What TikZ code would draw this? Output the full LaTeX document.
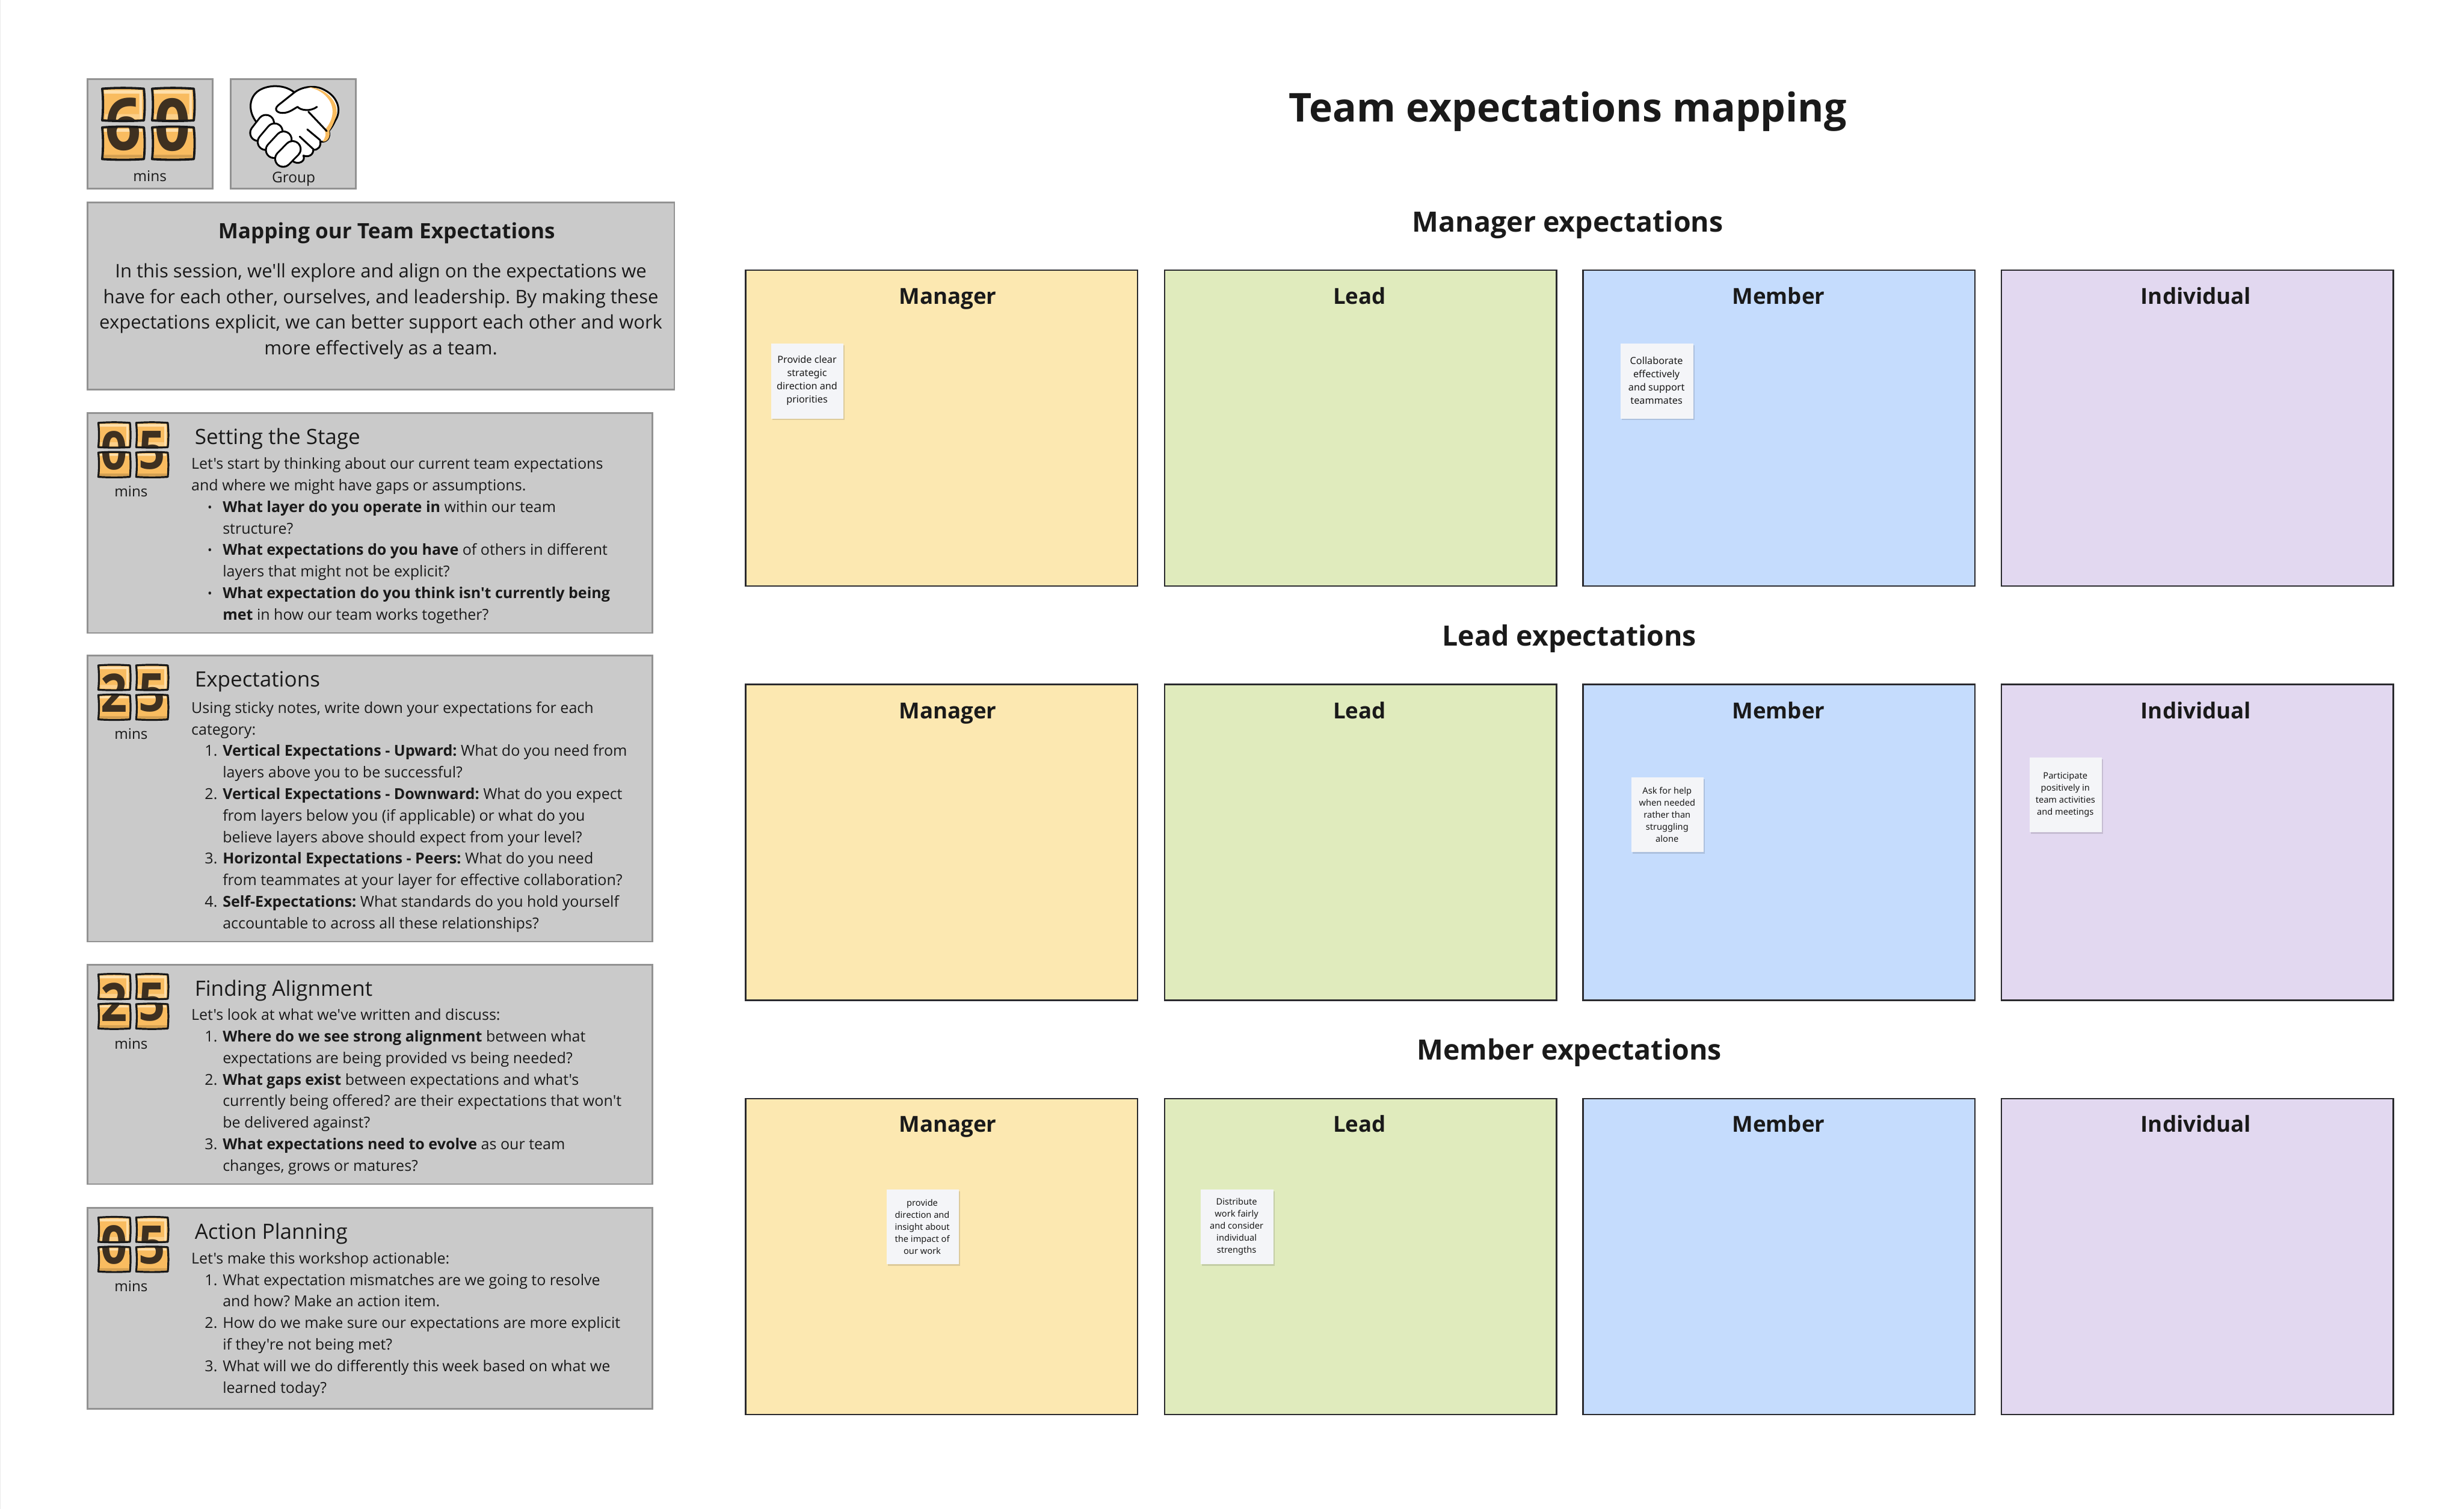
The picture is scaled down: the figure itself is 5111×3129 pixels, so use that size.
\documentclass[tikz,border=0pt]{standalone}
\usepackage{fontspec}
\usetikzlibrary{shadows}
\newfontfamily\os{Open Sans}
\newfontfamily\ns{Noto Sans}
\definecolor{inkc}{HTML}{1A1A1A}
\definecolor{panelc}{HTML}{CACACA}
\definecolor{panelb}{HTML}{929292}
\definecolor{frameb}{HTML}{2A2A2E}
\definecolor{yelc}{HTML}{FCE8B1}
\definecolor{grnc}{HTML}{E0EBBD}
\definecolor{bluc}{HTML}{C5DCFD}
\definecolor{purc}{HTML}{E2D8F0}
\definecolor{stickc}{HTML}{F4F5F8}
\definecolor{orgc}{HTML}{F9BC60}
\definecolor{orgl}{HTML}{FFDFAB}
\definecolor{digc}{HTML}{3E3020}
\frenchspacing
\newcommand{\fnt}[2]{\fontsize{#1pt}{#2pt}\selectfont}
\newlength{\lind}\setlength{\lind}{13pt}
\newcommand{\LI}[2]{\makebox[\lind][r]{#1\hspace{2.2pt}}#2}
\newcommand{\LC}[1]{\hspace*{\lind}#1}
\newcommand{\BU}{{\fontsize{5pt}{5pt}\selectfont\raisebox{.3pt}{•}}\hspace{2.2pt}}
% tile outline in a 100 x 100 box
\newcommand{\tilep}[4]{(#1,#2) .. controls ({#1+(#3)*.35},{#2-1.5}) and ({#1+(#3)*.65},{#2-1.5}) .. ({#1+#3},#2) .. controls ({#1+#3+1.2},{#2+(#4)*.35}) and ({#1+#3+1.2},{#2+(#4)*.65}) .. ({#1+#3},{#2+#4}) .. controls ({#1+(#3)*.65},{#2+#4+1.2}) and ({#1+(#3)*.35},{#2+#4+1.2}) .. (#1,{#2+#4}) .. controls ({#1+1.2},{#2+(#4)*.65}) and ({#1+1.2},{#2+(#4)*.35}) .. (#1,#2) -- cycle}
\newcommand{\tiles}{\tilep{0}{0}{45.5}{45}\tilep{54.5}{0}{45.5}{45}\tilep{0}{55}{45.5}{45}\tilep{54.5}{55}{45.5}{45}}
% #1 x, #2 y, #3 w, #4 h, #5 #6 digits, #7 font size, #8 name, #9 line width
\newcommand{\flip}[9]{%
\begin{scope}[shift={(#1,#2)},xscale=#3/100,yscale=#4/100]
 \fill[orgc] \tiles;
 \fill[orgl] (2,2) rectangle (43.5,7) (56.5,2) rectangle (98,7) (2,57) rectangle (43.5,61) (56.5,57) rectangle (98,61);
 \fill[orgl] (40.5,2) rectangle (43.5,43) (95,2) rectangle (98,43);
 \fill[orgl!55!orgc] (3,36) rectangle (41,43) (57,36) rectangle (95,43);
 \fill[orgc!85!black] (2,94) rectangle (43.5,98) (56.5,94) rectangle (98,98);
 \begin{scope}
  \clip \tiles;
  \node[text=digc,inner sep=0pt] (#8a) at (23,51) {\scalebox{.88}[1]{\os\bfseries\fnt{#7}{#7}#5}};
  \node[text=digc,inner sep=0pt] (#8b) at (77,51) {\scalebox{.88}[1]{\os\bfseries\fnt{#7}{#7}#6}};
 \end{scope}
 \draw[black!90,line width=#9pt,line join=round] \tiles;
\end{scope}}
\tikzset{
 x=0.2pt,y=-0.2pt,
 every node/.style={text=inkc,font=\os},
 pbox/.style={draw=panelb,line width=.7pt,fill=panelc,inner sep=0pt,anchor=north west},
 frm/.style={draw=frameb,line width=.6pt,inner sep=0pt,anchor=north west,minimum width=813*0.2pt,minimum height=655*0.2pt},
 flab/.style={font=\os\bfseries\fnt{9.15}{12},anchor=base},
 head/.style={font=\os\bfseries\fnt{11.6}{15}},
 ptitle/.style={font=\os\fnt{8.75}{11},anchor=west,inner sep=0pt},
 pbody/.style={font=\os\fnt{6.25}{8.94},align=left,anchor=north west,inner sep=0pt},
 minsl/.style={font=\os\fnt{6.05}{8},inner sep=0pt},
 sticky/.style={fill=stickc,inner sep=0pt,anchor=north west,minimum width=30pt,minimum height=31pt,drop shadow={shadow xshift=.5pt,shadow yshift=-.7pt,opacity=.12,fill=black}},
 stxt/.style={font=\ns\fnt{4.05}{5.45},align=center,text=inkc,inner sep=0pt},
 stxs/.style={font=\ns\fnt{3.65}{5.0},align=center,text=inkc,inner sep=0pt},
 hs/.style={line width=.75pt,draw=black,line join=round,line cap=round},
}
\begin{document}
\begin{tikzpicture}
\useasboundingbox (0,0) rectangle (5111,3129);
\fill[white] (0,0) rectangle (5111,3129);
\draw[black!8,line width=.4pt] (0,0) -- (0,3129);
% icon boxes
\node[pbox,minimum width=51.8pt,minimum height=45.4pt] (boxa) at (180,162) {};
\node[pbox,minimum width=51.8pt,minimum height=45.4pt] (boxb) at (477,162) {};
\flip{212}{184}{190}{146}{6}{0}{30}{fa}{.95}
\node[minsl,font=\os\fnt{6.1}{8}] (minsa) at (311,365) {mins};
\node[minsl,font=\os\fnt{6.1}{8}] (grp) at (609,371) {Group};
% handshake
\begin{scope}[shift={(478,130)},xscale=.44643,yscale=.3333,shift={(-733,0)}]
 \path[hs,fill=white] (860,380) .. controls (820,320) and (815,240) .. (850,190) .. controls (885,140) and (975,125) .. (1030,185) .. controls (1065,150) and (1125,135) .. (1170,170) .. controls (1235,215) and (1250,300) .. (1220,360) .. controls (1210,390) and (1200,410) .. (1190,425) .. controls (1200,465) and (1180,500) .. (1150,490) .. controls (1155,520) and (1140,545) .. (1118,542) .. controls (1118,575) and (1095,590) .. (1072,578) .. controls (1085,615) and (1045,640) .. (1020,610) -- (950,560) -- cycle;
 \fill[orgc] (1090,152) .. controls (1170,150) and (1240,240) .. (1225,330) .. controls (1215,370) and (1205,400) .. (1192,425) .. controls (1200,465) and (1180,498) .. (1160,490) .. controls (1175,470) and (1180,440) .. (1170,420) .. controls (1205,370) and (1220,300) .. (1195,240) .. controls (1170,185) and (1130,160) .. (1090,152) -- cycle;
 \draw[hs] (1030,185) -- (955,265) .. controls (930,295) and (955,318) .. (985,312) .. controls (1010,308) and (1030,285) .. (1045,275) .. controls (1060,298) and (1105,305) .. (1135,275);
 \draw[hs] (1095,305) -- (1180,425) (1090,415) -- (1150,482) (1055,460) -- (1118,538);
 \draw[hs] (1020,610) -- (1000,590);
 \foreach \ax/\ay/\bx/\by/\n in {898/375/862/437/a,938/428/897/493/b,980/478/935/543/c,1022/538/978/598/d}{
  \draw[black,line width=7.4pt,line cap=round] (\ax,\ay) -- (\bx,\by);
  \draw[white,line width=5.9pt,line cap=round] (\ax,\ay) -- (\bx,\by);
 }
\end{scope}
% intro
\node[pbox,minimum width=243.4pt,minimum height=77.6pt] (intro) at (180,418) {};
\node[font=\os\bfseries\fnt{8.75}{11}] (introt) at (802,484) {Mapping our Team Expectations};
\node[font=\os\fnt{7.75}{10.6},align=center,inner sep=0pt,anchor=north] (introb) at (790,546) {In this session, we'll explore and align on the expectations we\\have for each other, ourselves, and leadership. By making these\\expectations explicit, we can better support each other and work\\more effectively as a team.};
% panel 1
\node[pbox,minimum width=234.3pt,minimum height=91.2pt] (pa) at (180,855) {};
\flip{204}{877}{144}{112}{0}{5}{22}{fb}{.8}
\node[minsl] (minsb) at (272,1019) {mins};
\node[ptitle] (pat) at (403,910) {Setting the Stage};
\node[pbody] (pab) at (396,948) {Let's start by thinking about our current team expectations\\and where we might have gaps or assumptions.\\
\LI{\BU}{\textbf{What layer do you operate in} within our team}\\\LC{structure?}\\
\LI{\BU}{\textbf{What expectations do you have} of others in different}\\\LC{layers that might not be explicit?}\\
\LI{\BU}{\textbf{What expectation do you think isn't currently being}}\\\LC{\textbf{met} in how our team works together?}};
% panel 2
\node[pbox,minimum width=234.3pt,minimum height=118.6pt] (pb) at (180,1358) {};
\flip{204}{1380}{144}{112}{2}{5}{22}{fc}{.8}
\node[minsl] (minsc) at (272,1522) {mins};
\node[ptitle] (pbt) at (403,1413) {Expectations};
\node[pbody] (pbb) at (396,1454) {Using sticky notes, write down your expectations for each\\category:\\
\LI{1.}{\textbf{Vertical Expectations - Upward:} What do you need from}\\\LC{layers above you to be successful?}\\
\LI{2.}{\textbf{Vertical Expectations - Downward:} What do you expect}\\\LC{from layers below you (if applicable) or what do you}\\\LC{believe layers above should expect from your level?}\\
\LI{3.}{\textbf{Horizontal Expectations - Peers:} What do you need}\\\LC{from teammates at your layer for effective collaboration?}\\
\LI{4.}{\textbf{Self-Expectations:} What standards do you hold yourself}\\\LC{accountable to across all these relationships?}};
% panel 3
\node[pbox,minimum width=234.3pt,minimum height=91pt] (pc) at (180,1999) {};
\flip{204}{2021}{144}{112}{2}{5}{22}{fd}{.8}
\node[minsl] (minsd) at (272,2164) {mins};
\node[ptitle] (pct) at (403,2054) {Finding Alignment};
\node[pbody] (pcb) at (396,2091) {Let's look at what we've written and discuss:\\
\LI{1.}{\textbf{Where do we see strong alignment} between what}\\\LC{expectations are being provided vs being needed?}\\
\LI{2.}{\textbf{What gaps exist} between expectations and what's}\\\LC{currently being offered? are their expectations that won't}\\\LC{be delivered against?}\\
\LI{3.}{\textbf{What expectations need to evolve} as our team}\\\LC{changes, grows or matures?}};
% panel 4
\node[pbox,minimum width=234.3pt,minimum height=83.4pt] (pd) at (180,2503) {};
\flip{204}{2525}{144}{112}{0}{5}{22}{fe}{.8}
\node[minsl] (minse) at (272,2667) {mins};
\node[ptitle] (pdt) at (403,2558) {Action Planning};
\node[pbody] (pdb) at (396,2596) {Let's make this workshop actionable:\\
\LI{1.}{What expectation mismatches are we going to resolve}\\\LC{and how? Make an action item.}\\
\LI{2.}{How do we make sure our expectations are more explicit}\\\LC{if they're not being met?}\\
\LI{3.}{What will we do differently this week based on what we}\\\LC{learned today?}};
% headings
\node[font=\os\bfseries\fnt{16.5}{22}] (title) at (3252,231) {Team expectations mapping};
\node[head] (ha) at (3252,466) {Manager expectations};
\node[head] (hb) at (3255,1324) {Lead expectations};
\node[head] (hc) at (3255,2183) {Member expectations};
% frames
\foreach \r/\y/\ly in {a/559/631,b/1418/1490,c/2277/2348}{
 \node[frm,fill=yelc] (m\r) at (1545,\y) {};
 \node[frm,fill=grnc] (l\r) at (2414,\y) {};
 \node[frm,fill=bluc] (e\r) at (3282,\y) {};
 \node[frm,fill=purc] (i\r) at (4150,\y) {};
 \node[flab] (ml\r) at (1966,\ly) {Manager};
 \node[flab] (ll\r) at (2820,\ly) {Lead};
 \node[flab] (el\r) at (3689,\ly) {Member};
 \node[flab] (il\r) at (4555,\ly) {Individual};
}
% stickies
\node[sticky] (sa) at (1599,712) {};
\node[stxt] (sat) at (1674,789) {Provide clear\\strategic\\direction and\\priorities};
\node[sticky] (sb) at (3361,712) {};
\node[stxt] (sbt) at (3436,789) {Collaborate\\effectively\\and support\\teammates};
\node[sticky] (sc) at (3383,1611) {};
\node[stxs] (sct) at (3458,1689) {Ask for help\\when needed\\rather than\\struggling\\alone};
\node[sticky] (sd) at (4209,1570) {};
\node[stxs] (sdt) at (4284,1648) {Participate\\positively in\\team activities\\and meetings};
\node[sticky] (se) at (1838,2466) {};
\node[stxs] (set) at (1913,2544) {provide\\direction and\\insight about\\the impact of\\our work};
\node[sticky] (sf) at (2490,2466) {};
\node[stxs] (sft) at (2565,2544) {Distribute\\work fairly\\and consider\\individual\\strengths};
\end{tikzpicture}
\end{document}
